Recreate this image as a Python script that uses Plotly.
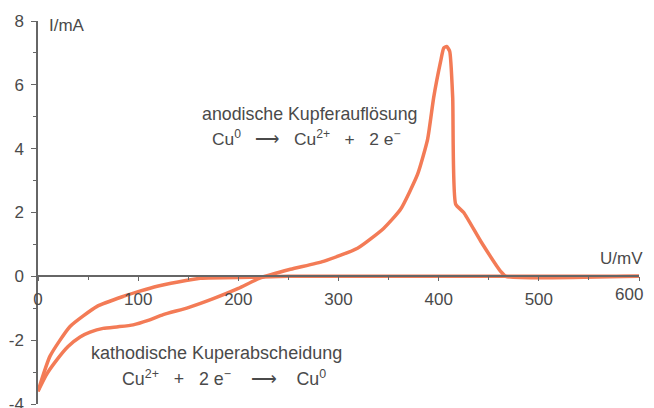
import plotly.graph_objects as go

# forward scan (cathodic start -> anodic peak -> flat)
fwd_u = [0, 8, 18, 30, 42, 52, 65, 80, 95, 110, 125, 150, 175, 200, 222, 252, 285, 319, 345, 362,
         379, 389, 395, 402, 405, 408, 411, 414, 417, 425, 442, 462, 467, 600]
fwd_i = [-3.6, -3.1, -2.65, -2.2, -1.9, -1.75, -1.63, -1.58, -1.52, -1.38, -1.2, -0.98, -0.7, -0.38,
         -0.05, 0.22, 0.47, 0.88, 1.5, 2.1, 3.2, 4.3, 5.6, 6.74, 7.15, 7.2, 7.05, 5.6, 2.26, 2.0,
         1.1, 0.15, 0.0, 0.0]
# reverse scan (600 mV back to 0)
rev_u = [600, 250, 212, 162, 119, 100, 85, 59, 32, 12, 0]
rev_i = [0, 0, -0.03, -0.06, -0.31, -0.48, -0.63, -0.94, -1.57, -2.5, -3.6]

x_ticks = [0, 100, 200, 300, 400, 500, 600]
x_labels = ["0", "100", "200", "300", "400", "500", "600"]
y_ticks = [-4, -2, 0, 2, 4, 6, 8]
y_labels = ["-4", "-2", "0", "2", "4", "6", "8"]

curve_color = "#f37b56"
text_color = "#4a4a4a"
axis_color = "#666666"
FONT = "Liberation Sans, Arial, sans-serif"

fig = go.Figure()
for u, i in ((fwd_u, fwd_i), (rev_u, rev_i)):
    fig.add_trace(go.Scatter(x=u, y=i, mode="lines",
                             line=dict(color=curve_color, width=3.5, shape="spline", smoothing=0.5),
                             hoverinfo="skip", showlegend=False))

# the last x tick label is drawn as an annotation (nudged left so it is not clipped at the page edge)
shown_x_labels = x_labels[:-1] + [""]

# page body has an 8px default margin, so the figure is sized/offset to compensate
fig.update_layout(
    width=646, height=400,
    margin=dict(l=30, r=15, t=13, b=4),
    paper_bgcolor="white", plot_bgcolor="white",
    font=dict(family=FONT, size=17, color=text_color),
    xaxis=dict(range=[0, 600], anchor="free", position=1/3, showgrid=False, zeroline=False,
               showline=True, linecolor=axis_color, linewidth=1.5,
               tickvals=x_ticks, ticktext=shown_x_labels, ticks="outside", ticklen=4,
               tickcolor=axis_color, tickwidth=1.2, ticklabelstandoff=4,
               minor=dict(dtick=50, ticks="outside", ticklen=3, tickcolor=axis_color),
               automargin=False),
    yaxis=dict(range=[-4, 8], showgrid=False, zeroline=False,
               showline=True, linecolor=axis_color, linewidth=1.5,
               tickvals=y_ticks, ticktext=y_labels, ticks="outside", ticklen=5,
               tickcolor=axis_color, tickwidth=1.2, ticklabelstandoff=4,
               ticklabeloverflow="allow",
               minor=dict(dtick=1, ticks="outside", ticklen=3, tickcolor=axis_color),
               automargin=False),
)

nb = "\u00a0"
arrow = "⟶"
ann = [
    dict(x=x_ticks[-1], y=0, xref="x", yref="y", text=x_labels[-1], xanchor="right", yanchor="top",
         xshift=6, yshift=-7, size=17),
    dict(x=9, y=7.87, xref="x", yref="y", text="I/mA", xanchor="left", yanchor="middle", size=17),
    dict(x=1.01, y=0.55, xref="paper", yref="y", text="U/mV", xanchor="right", yanchor="middle", size=17),
    dict(x=272, y=5.1, xref="x", yref="y", text="anodische Kupferauflösung", xanchor="center",
         yanchor="middle", size=17.8),
    dict(x=268, y=4.35, xref="x", yref="y",
         text=f"Cu<sup>0</sup>{nb*3}{arrow}{nb*3}Cu<sup>2+</sup>{nb*3}+{nb*3}2 e<sup>−</sup>",
         xanchor="center", yanchor="middle", size=17.4),
    dict(x=178, y=-2.4, xref="x", yref="y", text="kathodische Kuperabscheidung", xanchor="center",
         yanchor="middle", size=18),
    dict(x=186, y=-3.2, xref="x", yref="y",
         text=f"Cu<sup>2+</sup>{nb*3}+{nb*3}2 e<sup>−</sup>{nb*4}{arrow}{nb*4}Cu<sup>0</sup>",
         xanchor="center", yanchor="middle", size=17.8),
]
for a in ann:
    sz = a.pop("size")
    a.update(showarrow=False, font=dict(family=FONT, size=sz, color=text_color))
    fig.add_annotation(**a)

fig.write_html("out.html")
